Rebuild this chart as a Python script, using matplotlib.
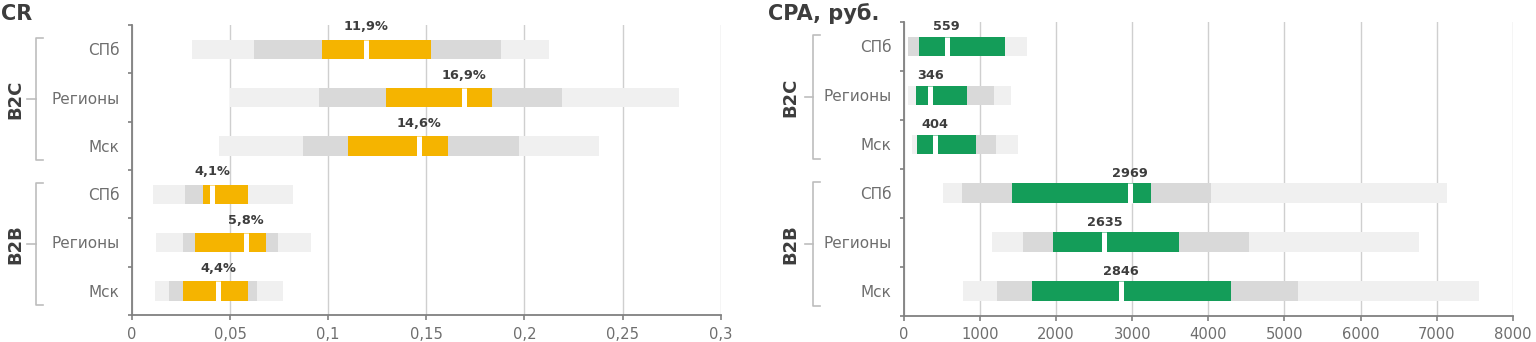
import matplotlib
matplotlib.use("Agg")
import matplotlib.pyplot as plt
from matplotlib.transforms import blended_transform_factory

plt.rcParams['font.family'] = ['DejaVu Sans']

# ---------------- data ----------------
cities = ['СПб', 'Регионы', 'Мск', 'СПб', 'Регионы', 'Мск']
groups = ['B2C', 'B2B']
group_rows = [(0, 2), (3, 5)]

cr_min = [0.0304, 0.0499, 0.0443, 0.0109, 0.0122, 0.0119]
cr_q1 = [0.0622, 0.0953, 0.0870, 0.0270, 0.0261, 0.0190]
cr_lo = [0.0967, 0.1293, 0.1099, 0.0360, 0.0321, 0.0258]
cr_med = [0.119, 0.169, 0.146, 0.041, 0.058, 0.044]
cr_hi = [0.1524, 0.1833, 0.1609, 0.0593, 0.0681, 0.0593]
cr_q3 = [0.1879, 0.2193, 0.1974, 0.0593, 0.0746, 0.0639]
cr_max = [0.2127, 0.2789, 0.2380, 0.0819, 0.0912, 0.0768]
cr_ticks = [0, 0.05, 0.1, 0.15, 0.2, 0.25, 0.3]
cr_ticklabels = ['0', '0,05', '0,1', '0,15', '0,2', '0,25', '0,3']

cpa_min = [49, 49, 109, 508, 1152, 780]
cpa_q1 = [49, 158, 175, 762, 1568, 1226]
cpa_lo = [201, 158, 175, 1423, 1962, 1678]
cpa_med = [559, 346, 404, 2969, 2635, 2846]
cpa_hi = [1327, 824, 946, 3242, 3618, 4297]
cpa_q3 = [1327, 1183, 1209, 4030, 4534, 5177]
cpa_max = [1612, 1402, 1502, 7131, 6771, 7560]
cpa_ticks = [0, 1000, 2000, 3000, 4000, 5000, 6000, 7000, 8000]
cpa_ticklabels = [str(t) for t in cpa_ticks]

# ---------------- style ----------------
W, H = 1536, 342
LIGHT = '#f0f0f0'
MED = '#d9d9d9'
YELLOW = '#f5b400'
GREEN = '#149d59'
GRID = '#cfcfcf'
SPINE = '#808080'
TICKTXT = '#6e6e6e'
DARK = '#3d3d3d'
BRACKET = '#bdbdbd'

fig = plt.figure(figsize=(W / 100, H / 100), dpi=100)


def make_axes(left_px, right_px, top_px, bottom_px):
    return fig.add_axes([left_px / W, 1 - bottom_px / H,
                         (right_px - left_px) / W, (bottom_px - top_px) / H])


def draw_panel(ax, mins, q1s, los, meds, his, q3s, maxs, color, xlim, ticks,
               ticklabels, fmt, label_offset, bracket_px, ax_left_px, ax_w_px):
    ys = list(range(len(cities)))
    h = 0.4
    ax.barh(ys, [b - a for a, b in zip(mins, maxs)], left=mins, height=h,
            color=LIGHT, zorder=2)
    ax.barh(ys, [b - a for a, b in zip(q1s, q3s)], left=q1s, height=h,
            color=MED, zorder=3)
    ax.barh(ys, [b - a for a, b in zip(los, his)], left=los, height=h,
            color=color, zorder=4)
    for y, m in zip(ys, meds):
        ax.plot([m, m], [y - h / 2, y + h / 2], color='white', lw=3.6,
                solid_capstyle='butt', zorder=5)
        ax.annotate(fmt(m), xy=(m, y - h / 2), xytext=(0, label_offset),
                    textcoords='offset points', ha='center', va='baseline',
                    fontsize=9.3, fontweight='bold', color=DARK, zorder=6,
                    annotation_clip=False)

    ax.set_xlim(*xlim)
    ax.set_ylim(len(cities) - 0.5, -0.5)
    ax.set_xticks(ticks)
    ax.set_xticklabels(ticklabels)
    ax.set_yticks(ys)
    ax.set_yticklabels(cities)
    ax.set_yticks([i - 0.5 for i in range(len(cities) + 1)], minor=True)
    ax.tick_params(axis='y', which='major', length=0, pad=9, labelsize=11,
                   labelcolor=TICKTXT)
    ax.tick_params(axis='y', which='minor', length=3, width=1.2, color=SPINE,
                   direction='out')
    ax.tick_params(axis='x', which='major', length=3.5, width=1.2, color=SPINE,
                   pad=5, labelsize=10.6, labelcolor=TICKTXT)
    for s in ['top', 'right']:
        ax.spines[s].set_visible(False)
    for s in ['left', 'bottom']:
        ax.spines[s].set_color(SPINE)
        ax.spines[s].set_linewidth(1.3)
    ax.set_axisbelow(True)
    ax.xaxis.grid(True, color=GRID, lw=1.0, zorder=0)

    # group brackets
    vx, hook, dash, txt = bracket_px
    tr = blended_transform_factory(ax.transAxes, ax.transData)
    fx = lambda px: (px - ax_left_px) / ax_w_px
    for (a, b), g in zip(group_rows, groups):
        top = a - 0.23
        bot = b + 0.3
        mid = (top + bot) / 2
        ax.plot([fx(hook), fx(vx), fx(vx), fx(hook)], [top, top, bot, bot],
                color=BRACKET, lw=1.2, transform=tr, clip_on=False)
        ax.plot([fx(dash), fx(vx)], [mid, mid], color=BRACKET, lw=1.2,
                transform=tr, clip_on=False)
        ax.text(fx(txt), mid, g, rotation=90, ha='center', va='center',
                fontsize=13, fontweight='bold', color=DARK, transform=tr)


ax1 = make_axes(132, 720.7, 25, 315)
draw_panel(ax1, cr_min, cr_q1, cr_lo, cr_med, cr_hi, cr_q3, cr_max, YELLOW,
           (0, 0.3), cr_ticks, cr_ticklabels,
           lambda v: f"{v * 100:.1f}%".replace('.', ','), 6.5,
           (36, 43, 27, 15), 132, 720.7 - 132)

ax2 = make_axes(904, 1512.7, 22, 315.5)
draw_panel(ax2, cpa_min, cpa_q1, cpa_lo, cpa_med, cpa_hi, cpa_q3, cpa_max, GREEN,
           (0, 8000), cpa_ticks, cpa_ticklabels,
           lambda v: f"{v:.0f}", 4.8,
           (812.7, 820, 805, 790), 904, 1512.7 - 904)

fig.text(1 / W, 1 - 20 / H, 'CR', fontsize=15, fontweight='bold',
         color=DARK, va='baseline', ha='left')
fig.text(768 / W, 1 - 20 / H, 'CPA, руб.', fontsize=15, fontweight='bold',
         color=DARK, va='baseline', ha='left')

fig.savefig('out.png', dpi=100)
